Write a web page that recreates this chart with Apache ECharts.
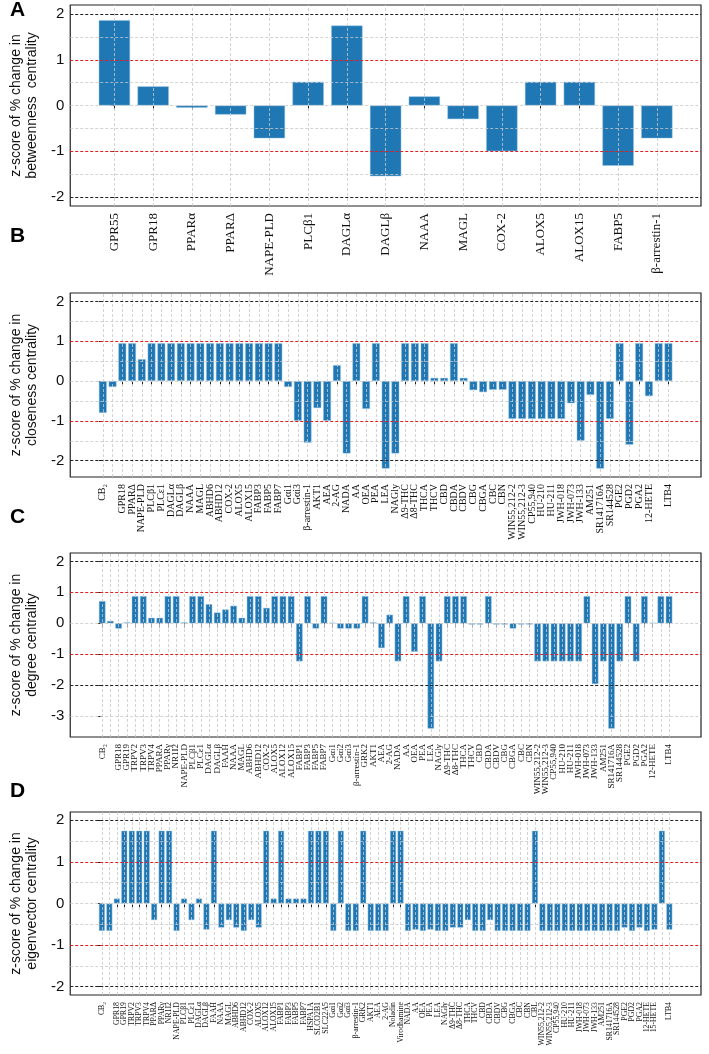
<!DOCTYPE html>
<html><head><meta charset="utf-8">
<script src="https://cdn.jsdelivr.net/npm/echarts@6/dist/echarts.min.js"></script>
<style>html,body{margin:0;padding:0;background:#fff}#c{width:709px;height:1054px}</style>
</head><body><div id="c"></div>
<script>
// ---------- DATA ----------
const catsA = ['GPR55','GPR18','PPARα','PPARΔ','NAPE-PLD','PLCβ1','DAGLα','DAGLβ','NAAA','MAGL','COX-2','ALOX5','ALOX15','FABP5','β-arrestin-1'];
const valsA = [1.87,0.42,-0.05,-0.2,-0.72,0.52,1.75,-1.55,0.2,-0.3,-1.0,0.52,0.52,-1.32,-0.72];

const catsB = ['CB₂','GPR55','GPR18','PPARΔ','NAPE-PLD','PLCβ1','PLCε1','DAGLα','DAGLβ','NAAA','MAGL','ABHD6','ABHD12','COX-2','ALOX5','ALOX15','FABP3','FABP5','FABP7','Gαi1','Gαi3','β-arrestin-1','AKT1','AEA','2-AG','NADA','AA','OEA','PEA','LEA','NAGly','Δ9-THC','Δ8-THC','THCA','THCV','CBD','CBDA','CBDV','CBG','CBGA','CBC','CBN','WIN55,212-2','WIN55,212-3','CP55,940','HU-210','HU-211','JWH-018','JWH-073','JWH-133','AM251','SR141716A','SR144528','PGE2','PGD2','PGA2','12-HETE','15-HETE','LTB4'];
const valsB = [-0.8,-0.15,0.95,0.95,0.55,0.95,0.95,0.95,0.95,0.95,0.95,0.95,0.95,0.95,0.95,0.95,0.95,0.95,0.95,-0.15,-1.0,-1.55,-0.68,-1.0,0.4,-1.82,0.95,-0.7,0.95,-2.2,-1.82,0.95,0.95,0.95,0.08,0.08,0.95,0.08,-0.23,-0.28,-0.22,-0.22,-0.95,-0.95,-0.95,-0.95,-0.95,-0.95,-0.56,-1.5,-0.35,-2.2,-0.95,0.95,-1.6,0.95,-0.38,0.95,0.95];

const catsC = ['CB₂','GPR55','GPR18','GPR19','TRPV2','TRPV3','TRPV4','PPARA','PPARγ','NR1I2','NAPE-PLD','PLCβ1','PLCε1','DAGLα','DAGLβ','FAAH','NAAA','MAGL','ABHD6','ABHD12','COX-2','ALOX5','ALOX12','ALOX15','FABP1','FABP3','FABP5','FABP7','Gαi1','Gαi2','Gαi3','β-arrestin-1','GRK2','AKT1','AEA','2-AG','NADA','AA','OEA','PEA','LEA','NAGly','Δ9-THC','Δ8-THC','THCA','THCV','CBD','CBDA','CBDV','CBG','CBGA','CBC','CBN','WIN55,212-2','WIN55,212-3','CP55,940','HU-210','HU-211','JWH-018','JWH-073','JWH-133','AM251','SR141716A','SR144528','PGE2','PGD2','PGA2','12-HETE','15-HETE','LTB4'];
const valsC = [0.72,0.08,-0.17,0.03,0.88,0.88,0.18,0.18,0.88,0.88,0.03,0.88,0.88,0.62,0.35,0.45,0.57,0.18,0.88,0.88,0.5,0.88,0.88,0.88,-1.23,0.88,-0.17,0.88,0.02,-0.17,-0.17,-0.17,0.88,0.03,-0.8,0.28,-1.23,0.88,-0.92,0.88,-3.4,-1.23,0.88,0.88,0.88,-0.04,-0.04,0.88,-0.04,-0.04,-0.17,-0.04,-0.04,-1.23,-1.23,-1.23,-1.23,-1.23,-1.23,0.88,-1.96,-1.23,-3.4,-1.23,0.88,-1.23,0.88,0.02,0.88,0.88];

const catsD = ['CB₂','GPR55','GPR18','GPR19','TRPV2','TRPV3','TRPV4','PPARΔ','PPARγ','NR1I2','NAPE-PLD','PLCβ1','PLCε1','DAGLα','DAGLβ','FAAH','NAAA','MAGL','ABHD6','ABHD12','COX-2','ALOX5','ALOX12','ALOX15','FABP1','FABP3','FABP5','FABP7','HSPA1A','SLCO2B1','SLC22A5','Gαi1','Gαi2','Gαi3','β-arrestin-1','GRK2','AKT1','AEA','2-AG','Noladin','Virodhamine','NADA','AA','OEA','PEA','LEA','NAGly','Δ9-THC','Δ8-THC','THCA','THCV','CBD','CBDA','CBDV','CBG','CBGA','CBC','CBN','CBL','WIN55,212-2','WIN55,212-3','CP55,940','HU-210','HU-211','JWH-018','JWH-073','JWH-133','AM251','SR141716A','SR144528','PGE2','PGD2','PGA2','12-HETE','15-HETE','5-HETE','LTB4'];
const valsD = [-0.66,-0.66,0.12,1.75,1.75,1.75,1.75,-0.4,1.75,1.75,-0.66,0.12,-0.4,0.12,-0.63,1.75,-0.58,-0.4,-0.58,-0.66,-0.4,-0.58,1.75,0.12,1.75,0.12,0.12,0.12,1.75,1.75,1.75,-0.66,1.75,-0.66,-0.66,1.75,-0.66,-0.66,-0.66,1.75,1.75,-0.66,-0.63,-0.66,-0.63,-0.66,-0.66,-0.58,-0.58,-0.4,-0.66,-0.66,-0.4,-0.66,-0.66,-0.66,-0.66,-0.66,1.75,-0.66,-0.66,-0.66,-0.66,-0.66,-0.66,-0.66,-0.66,-0.66,-0.66,-0.66,-0.58,-0.66,-0.58,-0.66,-0.63,1.75,-0.63];

const ticksA = [-2,-1,0,1,2];
const ticksC = [-3,-2,-1,0,1,2];

const names = ['z-score of % change in\nbetweenness  centrality','z-score of % change in\ncloseness centrality','z-score of % change in\ndegree centrality','z-score of % change in\neigenvector centrality'];

// ---------- LAYOUT ----------
const L = 62, R = 701;
const panels = [
  {cats:catsA, vals:valsA, top:5, bottom:206, ymin:-2.2, ymax:2.2, ticks:ticksA, grid:[-1.5,-0.5,0.5,1.5], font:13, letter:'A', ly:0},
  {cats:catsB, vals:valsB, top:293, bottom:477, ymin:-2.41, ymax:2.21, ticks:ticksA, grid:[-1.5,-0.5,0.5,1.5], font:10, letter:'B', ly:226},
  {cats:catsC, vals:valsC, top:553, bottom:737, ymin:-3.67, ymax:2.27, ticks:ticksC, grid:[-3], font:9, letter:'C', ly:507},
  {cats:catsD, vals:valsD, top:812, bottom:995, ymin:-2.2, ymax:2.2, ticks:ticksA, grid:[-1.5,-0.5,0.5,1.5], font:7.8, letter:'D', ly:781}
];

const grids=[], xAxes=[], yAxes=[], series=[], graphics=[];
panels.forEach((p,k)=>{
  const n = p.cats.length;
  const span = n - 1 + 0.8;
  const xmin = -0.4 - 0.05*span, xmax = n - 1 + 0.4 + 0.05*span;
  const bw = (R-L)/(xmax-xmin)*0.8;
  const idx = p.cats.map((c,i)=>i);
  grids.push({left:L, top:p.top, width:R-L, height:p.bottom-p.top, show:true, borderColor:'#222', borderWidth:1.2, backgroundColor:'transparent'});
  xAxes.push({type:'value', gridIndex:k, min:xmin, max:xmax,
    axisLine:{show:false}, splitLine:{show:false},
    axisTick:{show:true, customValues:idx, length:4, lineStyle:{color:'#222'}},
    axisLabel:{customValues:idx, rotate:90, margin:7, showMinLabel:true, showMaxLabel:true, hideOverlap:false,
      formatter:v=>p.cats[Math.round(v)]||'', fontFamily:'Liberation Serif', fontSize:p.font, color:'#111'}});
  yAxes.push({type:'value', gridIndex:k, min:p.ymin, max:p.ymax,
    name:names[k], nameLocation:'middle', nameGap:30, nameRotate:90,
    nameTextStyle:{fontFamily:'Liberation Sans', fontSize:14, color:'#111', lineHeight:16},
    axisLine:{show:false}, splitLine:{show:false},
    axisTick:{show:true, customValues:p.ticks, length:4, lineStyle:{color:'#222'}},
    axisLabel:{customValues:p.ticks, margin:6, showMinLabel:true, showMaxLabel:true, fontFamily:'Liberation Sans', fontSize:15, color:'#111'}});
  const ml = [];
  idx.forEach(i=>ml.push({xAxis:i, lineStyle:{color:'#c8c8c8', type:[3,2], width:0.8}}));
  [0].concat(p.grid).forEach(v=>ml.push({yAxis:v, lineStyle:{color:'#c8c8c8', type:[3,2], width:0.8}}));
  [-1,1].forEach(v=>ml.push({yAxis:v, lineStyle:{color:'#e02020', type:[3,2], width:1}}));
  [-2,2].forEach(v=>ml.push({yAxis:v, lineStyle:{color:'#222', type:[3,2], width:1}}));
  series.push({type:'bar', xAxisIndex:k, yAxisIndex:k, barWidth:bw,
    data:p.vals.map((v,i)=>[i,v]),
    itemStyle:{color:'#1f77b4', borderColor:'rgba(150,195,230,0.8)', borderWidth:0.6},
    markLine:{silent:true, symbol:'none', label:{show:false}, animation:false, data:ml}});
  graphics.push({type:'text', left:10, top:p.ly, style:{text:p.letter, font:'bold 21px "Liberation Sans"', fill:'#000'}});
});

const chart = echarts.init(document.getElementById('c'), null, {renderer:'canvas'});
chart.setOption({animation:false, backgroundColor:'#fff', grid:grids, xAxis:xAxes, yAxis:yAxes, series:series, graphic:graphics});
</script></body></html>
